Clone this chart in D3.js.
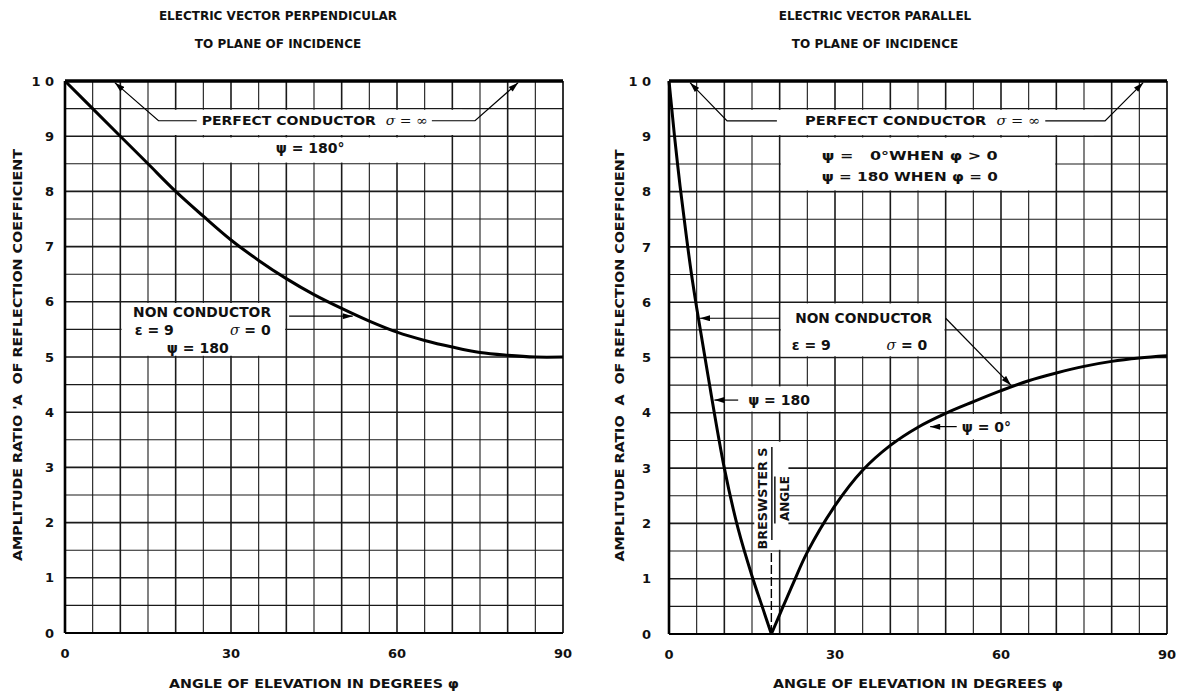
<!DOCTYPE html>
<html>
<head>
<meta charset="utf-8">
<script src="https://cdn.jsdelivr.net/npm/d3@7"></script>
<style>
  body { margin: 0; background: #fff; }
  text { font-family: "DejaVu Sans", sans-serif; fill: #111; white-space: pre; }
</style>
</head>
<body>
<script>
const W = 1179, H = 691;

// perpendicular case, non conductor (eps = 9)
const phiPerp = [0, 5, 10, 15, 20, 25, 30, 35, 40, 45, 50, 55, 60, 65, 70, 75, 80, 85, 90];
const ampPerp = [1.0, 0.95, 0.90, 0.85, 0.80, 0.755, 0.712, 0.675, 0.642, 0.613, 0.588, 0.565, 0.545, 0.53, 0.518, 0.508, 0.503, 0.50, 0.50];

// parallel case, branch with psi = 180 (below Brewster's angle)
const phiParLow = [0, 0.5, 1, 2, 3, 4, 5, 7, 10, 12.5, 15, 17, 18.5];
const ampParLow = [1.0, 0.95, 0.90, 0.81, 0.73, 0.655, 0.59, 0.47, 0.30, 0.19, 0.105, 0.045, 0];
// parallel case, branch with psi = 0 (above Brewster's angle)
const phiParHigh = [18.5, 20, 22.5, 25, 30, 35, 40, 45, 50, 55, 60, 65, 70, 75, 80, 85, 90];
const ampParHigh = [0, 0.035, 0.093, 0.148, 0.232, 0.296, 0.341, 0.374, 0.399, 0.42, 0.44, 0.458, 0.472, 0.484, 0.493, 0.499, 0.503];

// perfect conductor
const phiConductor = [0, 90];
const ampConductor = [1, 1];
const brewsterAngle = 18.5;

const xTicks = [0, 30, 60, 90];
const yTicks = [0, 0.1, 0.2, 0.3, 0.4, 0.5, 0.6, 0.7, 0.8, 0.9, 1.0];
const yTickLabels = ["0", "1", "2", "3", "4", "5", "6", "7", "8", "9", "1 0"];

const titlesLeft = ["ELECTRIC VECTOR PERPENDICULAR", "TO PLANE OF INCIDENCE"];
const titlesRight = ["ELECTRIC VECTOR PARALLEL", "TO PLANE OF INCIDENCE"];
const xTitle = "ANGLE OF ELEVATION IN DEGREES \u03c6";
const yTitleLeft = "AMPLITUDE RATIO 'A  OF REFLECTION COEFFICIENT";
const yTitleRight = "AMPLITUDE RATIO  A  OF REFLECTION COEFFICIENT";

const svg = d3.select("body").append("svg").attr("width", W).attr("height", H);

svg.append("defs").append("marker")
  .attr("id", "arrow")
  .attr("viewBox", "0 0 10 6")
  .attr("refX", 10).attr("refY", 3)
  .attr("markerWidth", 11).attr("markerHeight", 6)
  .attr("markerUnits", "userSpaceOnUse")
  .attr("orient", "auto")
  .append("path").attr("d", "M0,0L10,3L0,6Z").attr("fill", "#000");

function panel(p) {
  const x = d3.scaleLinear().domain([0, 90]).range([p.left, p.right]);
  const y = d3.scaleLinear().domain([0, 1]).range([p.bottom, p.top]);
  const g = svg.append("g");

  // grid, 5 degrees by 0.05
  g.selectAll(null).data(d3.range(5, 90, 5)).join("line")
    .attr("x1", d => x(d)).attr("x2", d => x(d))
    .attr("y1", y(0)).attr("y2", y(1))
    .attr("stroke", "#1a1a1a")
    .attr("stroke-width", d => d % 10 === 0 ? 1.6 : 1.1);
  g.selectAll(null).data(d3.range(1, 20)).join("line")
    .attr("x1", x(0)).attr("x2", x(90))
    .attr("y1", i => y(i * 0.05)).attr("y2", i => y(i * 0.05))
    .attr("stroke", "#1a1a1a")
    .attr("stroke-width", i => i % 2 === 0 ? 1.6 : 1.1);

  // white patches behind the notes
  g.selectAll(null).data(p.boxes).join("rect")
    .attr("x", d => x(d[0]) + 1.2)
    .attr("y", d => y(d[3]) + 1.2)
    .attr("width", d => x(d[1]) - x(d[0]) - 2.4)
    .attr("height", d => y(d[2]) - y(d[3]) - 2.4)
    .attr("fill", "#fff");

  // frame
  g.append("line").attr("x1", x(0)).attr("x2", x(0)).attr("y1", y(0)).attr("y2", y(1))
    .attr("stroke", "#000").attr("stroke-width", 2.6);
  g.append("line").attr("x1", x(90)).attr("x2", x(90)).attr("y1", y(0)).attr("y2", y(1))
    .attr("stroke", "#000").attr("stroke-width", 1.6);
  g.append("line").attr("x1", x(0)).attr("x2", x(90)).attr("y1", y(0)).attr("y2", y(0))
    .attr("stroke", "#000").attr("stroke-width", 2.2);

  const line = d3.line().x(d => x(d[0])).y(d => y(d[1])).curve(d3.curveCatmullRom.alpha(0.5));
  p.curves.forEach(c => {
    g.append("path").datum(d3.zip(c[0], c[1]))
      .attr("d", line)
      .attr("fill", "none").attr("stroke", "#000")
      .attr("stroke-width", c[2] || 3).attr("stroke-linejoin", "round");
  });

  // leaders
  const straight = d3.line().x(d => x(d[0])).y(d => y(d[1]));
  g.selectAll(null).data(p.leaders).join("path")
    .attr("d", straight)
    .attr("fill", "none").attr("stroke", "#000").attr("stroke-width", 1.2)
    .attr("marker-end", "url(#arrow)");

  // notes
  p.notes.forEach(n => {
    const t = g.append("text")
      .attr("x", x(n.x)).attr("y", y(n.y))
      .attr("dy", "0.36em")
      .attr("font-size", n.size || 13)
      .attr("font-weight", "bold")
      .attr("text-anchor", n.anchor || "start");
    if (n.len) t.attr("textLength", n.len).attr("lengthAdjust", "spacingAndGlyphs");
    n.parts.forEach(s => {
      const ts = t.append("tspan").text(s[0]);
      if (s[1] === "i") ts.attr("font-style", "italic").attr("font-family", "DejaVu Serif").attr("font-weight", "normal");
    });
  });

  // ticks
  g.selectAll(null).data(xTicks).join("text")
    .attr("x", d => x(d)).attr("y", p.bottom + 25)
    .attr("text-anchor", "middle").attr("font-size", 13).attr("font-weight", "bold")
    .text(d => d);
  g.selectAll(null).data(yTicks).join("text")
    .attr("x", p.left - p.tickGap).attr("y", d => y(d)).attr("dy", "0.36em")
    .attr("text-anchor", "end").attr("font-size", 13).attr("font-weight", "bold")
    .text((d, i) => yTickLabels[i]);

  // titles
  p.titles.forEach((s, i) => {
    g.append("text").attr("x", p.titleX).attr("y", 20 + i * 28)
      .attr("text-anchor", "middle").attr("font-size", 12).attr("font-weight", "bold")
      .text(s);
  });
  g.append("text").attr("x", (p.left + p.right) / 2).attr("y", 688)
    .attr("text-anchor", "middle").attr("font-size", 13).attr("font-weight", "bold")
    .attr("textLength", 290).attr("lengthAdjust", "spacingAndGlyphs")
    .text(xTitle);
  g.append("text")
    .attr("transform", `translate(${p.yTitleX},${(p.top + p.bottom) / 2 - 2}) rotate(-90)`)
    .attr("text-anchor", "middle").attr("font-size", 13).attr("font-weight", "bold")
    .attr("textLength", 412).attr("lengthAdjust", "spacingAndGlyphs")
    .text(p.yTitle);

  return { g, x, y };
}

// left panel
panel({
  left: 65, right: 563, top: 81, bottom: 633, tickGap: 11, titleX: 278, yTitleX: 22,
  titles: titlesLeft, yTitle: yTitleLeft,
  boxes: [[15, 72, 0.90, 0.95], [20, 70, 0.85, 0.90], [10, 40, 0.50, 0.60]],
  curves: [[phiConductor, ampConductor, 3.6], [phiPerp, ampPerp, 3]],
  leaders: [
    [[23.8, 0.928], [16.9, 0.928], [9.0, 0.997]],
    [[66.3, 0.928], [74.1, 0.928], [81.9, 0.997]],
    [[40.5, 0.574], [52.0, 0.574]]
  ],
  notes: [
    { x: 24.7, y: 0.928, parts: [["PERFECT CONDUCTOR  "], ["\u03c3 = \u221e", "i"]], len: 226 },
    { x: 44.3, y: 0.878, anchor: "middle", size: 14, parts: [["\u03c8 = 180\u00b0"]] },
    { x: 12.3, y: 0.581, size: 14, parts: [["NON CONDUCTOR"]], len: 138 },
    { x: 12.6, y: 0.549, size: 14, parts: [["\u03b5 = 9"]] },
    { x: 29.8, y: 0.549, size: 14, parts: [["\u03c3", "i"], [" = 0"]] },
    { x: 18.4, y: 0.516, size: 14, parts: [["\u03c8 = 180"]] }
  ]
});

// right panel
const right = panel({
  left: 669, right: 1167, top: 81, bottom: 634, tickGap: 18, titleX: 875, yTitleX: 624,
  titles: titlesRight, yTitle: yTitleRight,
  boxes: [[10, 77, 0.90, 0.95], [20, 70, 0.80, 0.90], [20, 50, 0.50, 0.60],
          [10, 26, 0.40, 0.45], [50, 65, 0.35, 0.40], [15.2, 21.8, 0.15, 0.35]],
  curves: [[phiConductor, ampConductor, 3.6], [phiParLow, ampParLow, 3], [phiParHigh, ampParHigh, 3]],
  leaders: [
    [[19.5, 0.928], [10.5, 0.928], [3.8, 0.997]],
    [[68.0, 0.928], [78.8, 0.928], [85.7, 0.997]],
    [[20.0, 0.571], [5.6, 0.571]],
    [[50.0, 0.571], [61.8, 0.45]],
    [[12.5, 0.423], [8.2, 0.423]],
    [[52.0, 0.375], [47.2, 0.375]]
  ],
  notes: [
    { x: 24.6, y: 0.928, parts: [["PERFECT CONDUCTOR  "], ["\u03c3 = \u221e", "i"]], len: 235 },
    { x: 27.6, y: 0.866, parts: [["\u03c8 =   0\u00b0WHEN \u03c6 > 0"]], len: 176 },
    { x: 27.6, y: 0.827, parts: [["\u03c8 = 180 WHEN \u03c6 = 0"]], len: 176 },
    { x: 22.8, y: 0.571, size: 14, parts: [["NON CONDUCTOR"]], len: 137 },
    { x: 22.2, y: 0.523, size: 14, parts: [["\u03b5 = 9"]] },
    { x: 39.3, y: 0.523, size: 14, parts: [["\u03c3", "i"], [" = 0"]] },
    { x: 14.3, y: 0.423, size: 14, parts: [["\u03c8 = 180"]] },
    { x: 52.9, y: 0.375, size: 14, parts: [["\u03c8 = 0\u00b0"]] }
  ]
});

// Brewster's angle marker
const rx = right.x, ry = right.y, rg = right.g;
rg.append("line")
  .attr("x1", rx(brewsterAngle)).attr("x2", rx(brewsterAngle))
  .attr("y1", ry(0)).attr("y2", ry(0.15))
  .attr("stroke", "#000").attr("stroke-width", 1.4).attr("stroke-dasharray", "9,3");
rg.append("text")
  .attr("transform", `translate(${rx(brewsterAngle) - 4},${ry(0.245)}) rotate(-90)`)
  .attr("text-anchor", "middle").attr("font-size", 12).attr("font-weight", "bold")
  .attr("textLength", 102).attr("lengthAdjust", "spacingAndGlyphs")
  .text("BRESWSTER S");
rg.append("text")
  .attr("transform", `translate(${rx(brewsterAngle) + 18},${ry(0.245)}) rotate(-90)`)
  .attr("text-anchor", "middle").attr("font-size", 12).attr("font-weight", "bold")
  .text("ANGLE");
rg.append("line")
  .attr("x1", rx(brewsterAngle) + 0.5).attr("x2", rx(brewsterAngle) + 0.5)
  .attr("y1", ry(0.338)).attr("y2", ry(0.17))
  .attr("stroke", "#000").attr("stroke-width", 1.4);
rg.append("line")
  .attr("x1", rx(brewsterAngle) + 3.5).attr("x2", rx(brewsterAngle) + 3.5)
  .attr("y1", ry(0.285)).attr("y2", ry(0.2))
  .attr("stroke", "#000").attr("stroke-width", 1.4);
</script>
</body>
</html>
